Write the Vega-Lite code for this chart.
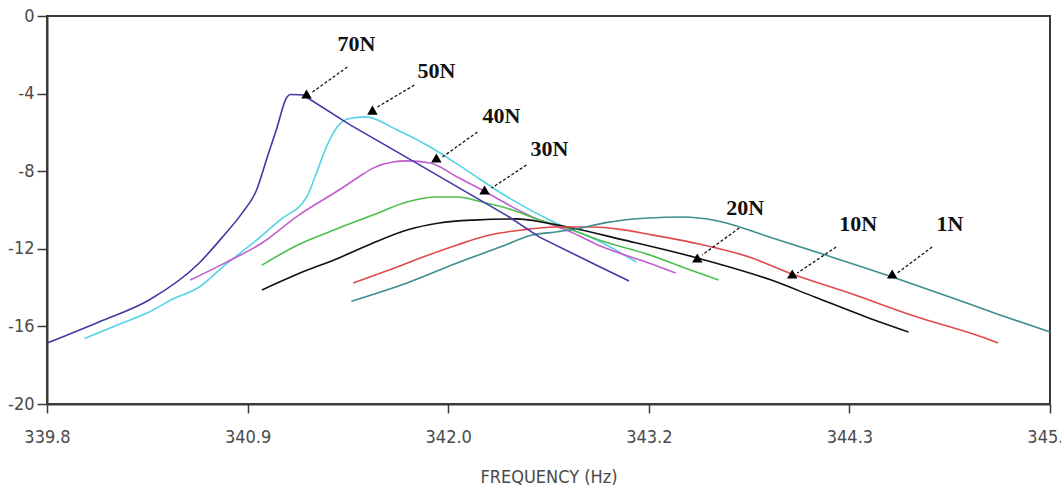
{
  "$schema": "https://vega.github.io/schema/vega-lite/v6.json",
  "width": 1003,
  "height": 388,
  "autosize": {"type": "none"},
  "padding": {"left": 47, "top": 16, "right": 11, "bottom": 84},
  "background": "white",
  "config": {
    "view": {"stroke": "#3a3a3a", "strokeWidth": 2},
    "axis": {"grid": false}
  },
  "datasets": {
    "curves": [
      {"s": "70N", "f": 339.80, "v": -16.86}, {"s": "70N", "f": 340.09, "v": -15.77}, {"s": "70N", "f": 340.37, "v": -14.64},
      {"s": "70N", "f": 340.65, "v": -12.73}, {"s": "70N", "f": 340.78, "v": -11.39}, {"s": "70N", "f": 340.89, "v": -10.15},
      {"s": "70N", "f": 340.97, "v": -8.97}, {"s": "70N", "f": 341.03, "v": -7.27}, {"s": "70N", "f": 341.08, "v": -5.88},
      {"s": "70N", "f": 341.14, "v": -4.18}, {"s": "70N", "f": 341.16, "v": -4.05}, {"s": "70N", "f": 341.23, "v": -4.07},
      {"s": "70N", "f": 341.49, "v": -5.6}, {"s": "70N", "f": 341.81, "v": -7.3}, {"s": "70N", "f": 342.37, "v": -10.3},
      {"s": "70N", "f": 342.55, "v": -11.4}, {"s": "70N", "f": 342.88, "v": -12.9}, {"s": "70N", "f": 343.05, "v": -13.66},

      {"s": "50N", "f": 340.01, "v": -16.62}, {"s": "50N", "f": 340.20, "v": -15.9}, {"s": "50N", "f": 340.37, "v": -15.26},
      {"s": "50N", "f": 340.50, "v": -14.6}, {"s": "50N", "f": 340.65, "v": -13.97}, {"s": "50N", "f": 340.78, "v": -12.94},
      {"s": "50N", "f": 340.97, "v": -11.55}, {"s": "50N", "f": 341.10, "v": -10.52}, {"s": "50N", "f": 341.25, "v": -9.33},
      {"s": "50N", "f": 341.30, "v": -8.2}, {"s": "50N", "f": 341.36, "v": -6.75}, {"s": "50N", "f": 341.42, "v": -5.72},
      {"s": "50N", "f": 341.49, "v": -5.28}, {"s": "50N", "f": 341.58, "v": -5.2}, {"s": "50N", "f": 341.75, "v": -5.85},
      {"s": "50N", "f": 341.94, "v": -6.75}, {"s": "50N", "f": 342.15, "v": -8.0}, {"s": "50N", "f": 342.33, "v": -9.1},
      {"s": "50N", "f": 342.64, "v": -10.67}, {"s": "50N", "f": 342.88, "v": -11.6}, {"s": "50N", "f": 343.09, "v": -12.68},

      {"s": "40N", "f": 340.60, "v": -13.61}, {"s": "40N", "f": 340.80, "v": -12.7}, {"s": "40N", "f": 341.00, "v": -11.70},
      {"s": "40N", "f": 341.20, "v": -10.3}, {"s": "40N", "f": 341.43, "v": -8.97}, {"s": "40N", "f": 341.54, "v": -8.3},
      {"s": "40N", "f": 341.62, "v": -7.84}, {"s": "40N", "f": 341.73, "v": -7.53}, {"s": "40N", "f": 341.81, "v": -7.47},
      {"s": "40N", "f": 341.94, "v": -7.58}, {"s": "40N", "f": 342.09, "v": -8.30}, {"s": "40N", "f": 342.23, "v": -8.97},
      {"s": "40N", "f": 342.40, "v": -9.85}, {"s": "40N", "f": 342.55, "v": -10.52}, {"s": "40N", "f": 342.70, "v": -11.03},
      {"s": "40N", "f": 342.90, "v": -11.9}, {"s": "40N", "f": 343.16, "v": -12.73}, {"s": "40N", "f": 343.31, "v": -13.25},

      {"s": "30N", "f": 341.00, "v": -12.84}, {"s": "30N", "f": 341.20, "v": -11.8}, {"s": "30N", "f": 341.43, "v": -10.93},
      {"s": "30N", "f": 341.62, "v": -10.26}, {"s": "30N", "f": 341.81, "v": -9.59}, {"s": "30N", "f": 341.97, "v": -9.33},
      {"s": "30N", "f": 342.09, "v": -9.33}, {"s": "30N", "f": 342.23, "v": -9.59}, {"s": "30N", "f": 342.40, "v": -10.0},
      {"s": "30N", "f": 342.55, "v": -10.52}, {"s": "30N", "f": 342.70, "v": -10.93}, {"s": "30N", "f": 342.90, "v": -11.6},
      {"s": "30N", "f": 343.16, "v": -12.3}, {"s": "30N", "f": 343.35, "v": -12.95}, {"s": "30N", "f": 343.55, "v": -13.61},

      {"s": "20N", "f": 341.00, "v": -14.12}, {"s": "20N", "f": 341.20, "v": -13.3}, {"s": "20N", "f": 341.43, "v": -12.47},
      {"s": "20N", "f": 341.62, "v": -11.70}, {"s": "20N", "f": 341.81, "v": -11.03}, {"s": "20N", "f": 341.99, "v": -10.67},
      {"s": "20N", "f": 342.18, "v": -10.52}, {"s": "20N", "f": 342.42, "v": -10.46}, {"s": "20N", "f": 342.59, "v": -10.67},
      {"s": "20N", "f": 342.72, "v": -10.9}, {"s": "20N", "f": 343.00, "v": -11.5}, {"s": "20N", "f": 343.41, "v": -12.42},
      {"s": "20N", "f": 343.84, "v": -13.6}, {"s": "20N", "f": 344.09, "v": -14.5}, {"s": "20N", "f": 344.37, "v": -15.5},
      {"s": "20N", "f": 344.61, "v": -16.29},

      {"s": "10N", "f": 341.51, "v": -13.76}, {"s": "10N", "f": 341.71, "v": -13.09}, {"s": "10N", "f": 341.90, "v": -12.42},
      {"s": "10N", "f": 342.09, "v": -11.80}, {"s": "10N", "f": 342.27, "v": -11.29}, {"s": "10N", "f": 342.45, "v": -11.03},
      {"s": "10N", "f": 342.64, "v": -10.88}, {"s": "10N", "f": 342.84, "v": -10.88}, {"s": "10N", "f": 343.00, "v": -11.0},
      {"s": "10N", "f": 343.16, "v": -11.25}, {"s": "10N", "f": 343.44, "v": -11.75}, {"s": "10N", "f": 343.72, "v": -12.42},
      {"s": "10N", "f": 343.96, "v": -13.3}, {"s": "10N", "f": 344.28, "v": -14.28}, {"s": "10N", "f": 344.66, "v": -15.52},
      {"s": "10N", "f": 345.02, "v": -16.55}, {"s": "10N", "f": 345.11, "v": -16.86},

      {"s": "1N", "f": 341.50, "v": -14.70}, {"s": "1N", "f": 341.81, "v": -13.76}, {"s": "1N", "f": 342.09, "v": -12.73},
      {"s": "1N", "f": 342.33, "v": -11.91}, {"s": "1N", "f": 342.51, "v": -11.29}, {"s": "1N", "f": 342.64, "v": -11.13},
      {"s": "1N", "f": 342.77, "v": -10.95}, {"s": "1N", "f": 342.92, "v": -10.65}, {"s": "1N", "f": 343.16, "v": -10.41},
      {"s": "1N", "f": 343.35, "v": -10.36}, {"s": "1N", "f": 343.54, "v": -10.55}, {"s": "1N", "f": 343.82, "v": -11.35},
      {"s": "1N", "f": 344.18, "v": -12.42}, {"s": "1N", "f": 344.52, "v": -13.45}, {"s": "1N", "f": 344.84, "v": -14.48},
      {"s": "1N", "f": 345.12, "v": -15.41}, {"s": "1N", "f": 345.40, "v": -16.29}
    ],
    "arrows": [
      {"f": 341.477, "v": -2.63, "f2": 341.282, "v2": -3.92},
      {"f": 341.851, "v": -3.56, "f2": 341.645, "v2": -4.69},
      {"f": 342.203, "v": -5.98, "f2": 342.008, "v2": -7.27},
      {"f": 342.477, "v": -7.68, "f2": 342.282, "v2": -8.87},
      {"f": 343.665, "v": -10.93, "f2": 343.458, "v2": -12.32},
      {"f": 344.206, "v": -11.91, "f2": 343.989, "v2": -13.25},
      {"f": 344.742, "v": -11.91, "f2": 344.547, "v2": -13.25}
    ],
    "tips": [
      {"f": 341.249, "v": -4.02},
      {"f": 341.617, "v": -4.85},
      {"f": 341.974, "v": -7.32},
      {"f": 342.243, "v": -8.97},
      {"f": 343.431, "v": -12.47},
      {"f": 343.961, "v": -13.30},
      {"f": 344.519, "v": -13.30}
    ],
    "labels": [
      {"t": "70N", "f": 341.528, "v": -1.44},
      {"t": "50N", "f": 341.974, "v": -2.84},
      {"t": "40N", "f": 342.337, "v": -5.15},
      {"t": "30N", "f": 342.605, "v": -6.83},
      {"t": "20N", "f": 343.698, "v": -9.90},
      {"t": "10N", "f": 344.329, "v": -10.72},
      {"t": "1N", "f": 344.842, "v": -10.72}
    ]
  },
  "encoding": {
    "x": {
      "field": "f", "type": "quantitative",
      "scale": {"domain": [339.8, 345.4], "nice": false, "zero": false},
      "axis": {
        "title": "FREQUENCY (Hz)",
        "values": [339.8, 340.92, 342.04, 343.16, 344.28, 345.4],
        "labelExpr": "format(datum.value, '.1f')",
        "labelFlush": false, "labelOverlap": false,
        "domainColor": "#3a3a3a", "domainWidth": 2,
        "tickColor": "#3a3a3a", "tickWidth": 1.5, "tickSize": 9,
        "labelPadding": 15,
        "labelFont": "DejaVu Sans Condensed", "labelFontSize": 18, "labelColor": "#4a4a4a",
        "titleFont": "DejaVu Sans Condensed", "titleFontSize": 18, "titleFontWeight": "normal",
        "titleColor": "#4a4a4a", "titlePadding": 22
      }
    },
    "y": {
      "field": "v", "type": "quantitative",
      "scale": {"domain": [-20, 0], "nice": false, "zero": false},
      "axis": {
        "title": null,
        "values": [0, -4, -8, -12, -16, -20],
        "labelExpr": "'' + datum.value",
        "domainColor": "#3a3a3a", "domainWidth": 2,
        "tickColor": "#3a3a3a", "tickWidth": 1.5, "tickSize": 10,
        "labelPadding": 3,
        "labelFont": "DejaVu Sans Condensed", "labelFontSize": 18, "labelColor": "#4a4a4a"
      }
    }
  },
  "layer": [
    {
      "data": {"name": "curves"},
      "transform": [{"filter": "datum.s != '70N' || datum.f <= 341.23"}],
      "mark": {"type": "line", "strokeWidth": 1.6, "interpolate": "monotone"},
      "encoding": {
        "color": {
          "field": "s", "type": "nominal", "legend": null,
          "scale": {
            "domain": ["70N", "50N", "40N", "30N", "20N", "10N", "1N"],
            "range": ["#4338a4", "#55d3e6", "#c35ccf", "#4cbf4c", "#111111", "#e04a4a", "#3d8e8e"]
          }
        }
      }
    },
    {
      "data": {"name": "curves"},
      "transform": [{"filter": "datum.s == '70N' && datum.f >= 341.23"}],
      "mark": {"type": "line", "strokeWidth": 1.6, "interpolate": "linear"},
      "encoding": {
        "color": {"field": "s", "type": "nominal", "legend": null}
      }
    },
    {
      "data": {"name": "arrows"},
      "mark": {"type": "rule", "color": "#111111", "strokeWidth": 1.3, "strokeDash": [3, 2]},
      "encoding": {
        "x2": {"field": "f2"},
        "y2": {"field": "v2"}
      }
    },
    {
      "data": {"name": "tips"},
      "mark": {"type": "point", "shape": "triangle-up", "filled": true, "size": 110, "color": "#000000", "opacity": 1}
    },
    {
      "data": {"name": "labels"},
      "mark": {"type": "text", "font": "Liberation Serif", "fontWeight": "bold", "fontSize": 22, "color": "#111111", "align": "center", "baseline": "middle"},
      "encoding": {"text": {"field": "t"}}
    }
  ]
}
